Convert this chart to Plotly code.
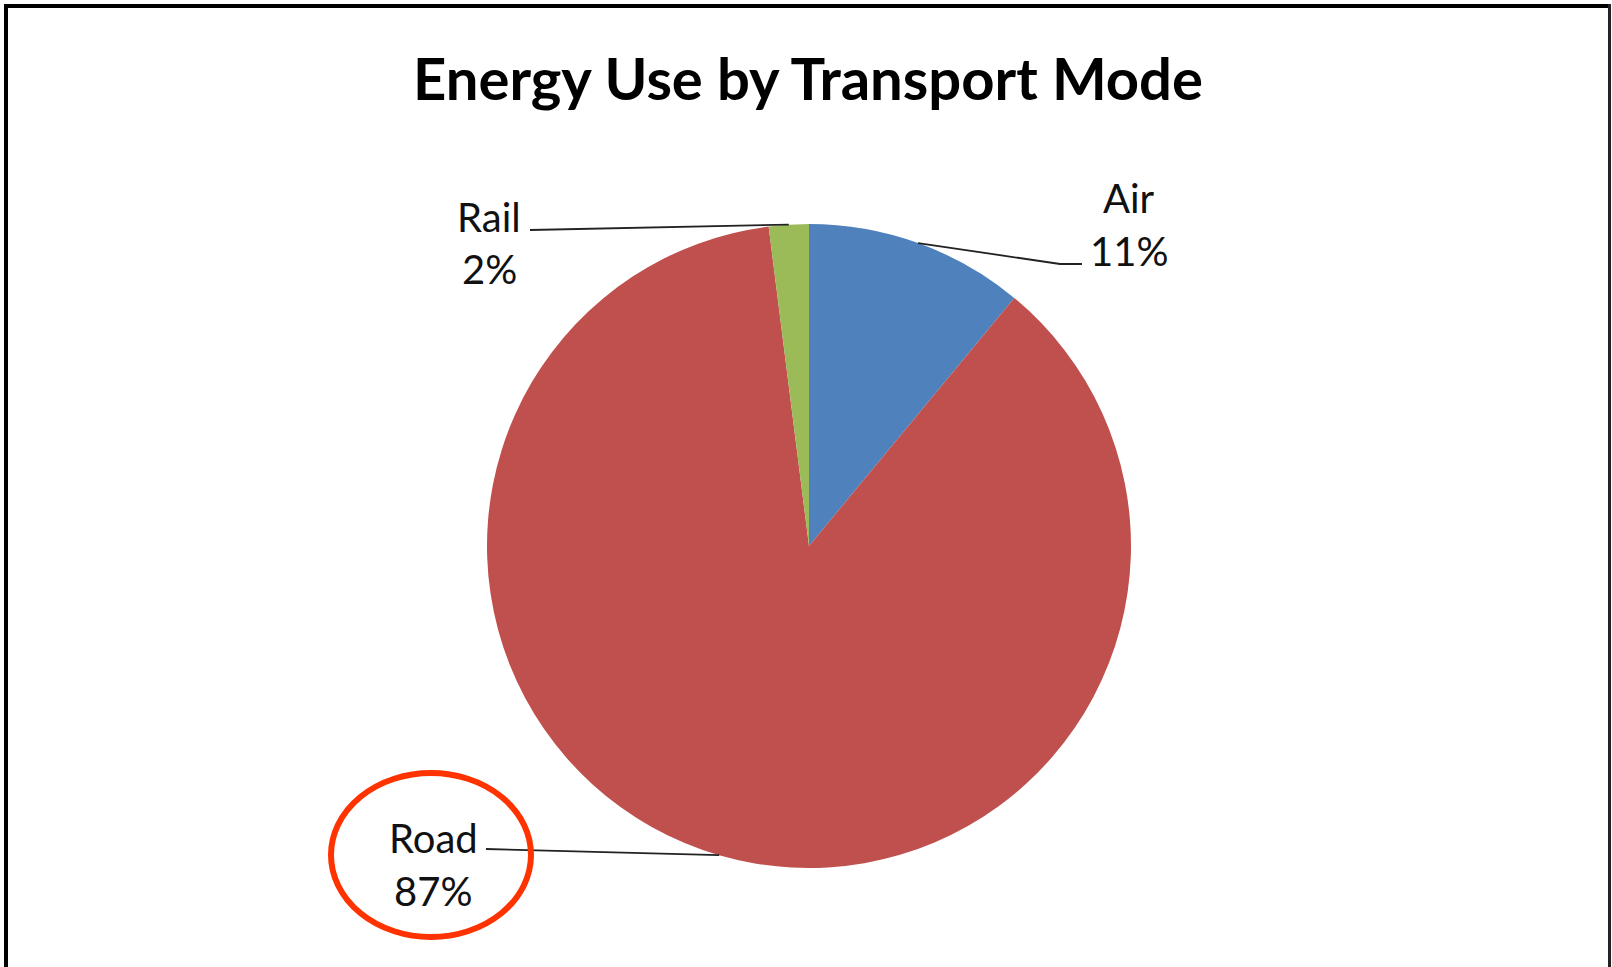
import math
import plotly.graph_objects as go

# Data
modes = ["Air", "Road", "Rail"]
shares = [11, 87, 2]
colors = ["#4F81BD", "#C0504D", "#9BBB59"]

W, H = 1612, 967

# Pie geometry in pixels
CX, CY, R = 809, 546, 322


def px(x):
    return x / W


def py(y):
    return 1 - y / H


def arc_point(idx):
    """Point on the rim at the middle angle of slice idx (clockwise from 12 o'clock)."""
    total = sum(shares)
    start = sum(shares[:idx]) / total
    mid = (start + shares[idx] / total / 2) * 2 * math.pi
    return CX + R * math.sin(mid), CY - R * math.cos(mid)


fig = go.Figure(
    go.Pie(
        labels=modes,
        values=shares,
        sort=False,
        direction="clockwise",
        rotation=0,
        textinfo="none",
        hoverinfo="label+percent",
        marker=dict(colors=colors, line=dict(width=0)),
        domain=dict(x=[px(CX - R), px(CX + R)], y=[py(CY + R), py(CY - R)]),
        showlegend=False,
    )
)

# Label placement (x centre, name line centre, percent line centre)
label_pos = {
    "Air": (1129, 198, 251),
    "Road": (433, 838, 891),
    "Rail": (489, 217, 269),
}

label_font = dict(family="Lato, sans-serif", size=40, color="#111111")
annotations = []
for m, v in zip(modes, shares):
    x, y1, y2 = label_pos[m]
    annotations.append(dict(x=px(x), y=py(y1), xref="paper", yref="paper",
                            text=m, showarrow=False, font=label_font,
                            xanchor="center", yanchor="middle"))
    annotations.append(dict(x=px(x), y=py(y2), xref="paper", yref="paper",
                            text=f"{v}%", showarrow=False, font=label_font,
                            xanchor="center", yanchor="middle"))

# Leader lines from labels to slice rims
leader = dict(color="#222222", width=1.8)
shapes = []
ax, ay = arc_point(0)
shapes.append(dict(type="path", xref="paper", yref="paper", line=leader,
                   path=f"M {px(ax)},{py(ay)} L {px(1060)},{py(264)} L {px(1082)},{py(264)}"))
rx_, ry_ = arc_point(1)
shapes.append(dict(type="line", xref="paper", yref="paper", line=leader,
                   x0=px(486), y0=py(849), x1=px(rx_), y1=py(ry_)))
gx, gy = arc_point(2)
shapes.append(dict(type="line", xref="paper", yref="paper", line=leader,
                   x0=px(530), y0=py(230), x1=px(gx), y1=py(gy)))

# Highlight ring around the Road label
shapes.append(dict(type="circle", xref="paper", yref="paper",
                   x0=px(331), x1=px(531), y0=py(937), y1=py(773),
                   line=dict(color="#FF3300", width=6)))

# Chart frame (open at the bottom)
frame = "#000000"
shapes.append(dict(type="line", xref="paper", yref="paper", x0=px(6), x1=px(6),
                   y0=-0.05, y1=py(4), line=dict(color=frame, width=4)))
shapes.append(dict(type="line", xref="paper", yref="paper", x0=px(4), x1=px(1611),
                   y0=py(6), y1=py(6), line=dict(color=frame, width=4)))
shapes.append(dict(type="line", xref="paper", yref="paper", x0=px(1609.5), x1=px(1609.5),
                   y0=-0.05, y1=py(4), line=dict(color="#222222", width=3)))

fig.update_layout(
    width=W,
    height=H,
    margin=dict(l=0, r=0, t=0, b=0),
    paper_bgcolor="white",
    plot_bgcolor="white",
    title=dict(
        text="Energy Use by Transport Mode",
        x=px(808), xref="paper", xanchor="center",
        y=py(80), yref="container", yanchor="middle",
        font=dict(family="Lato, sans-serif", size=58, color="#000000", weight=700),
    ),
    annotations=annotations,
    shapes=shapes,
)

fig.write_html("out.html")
